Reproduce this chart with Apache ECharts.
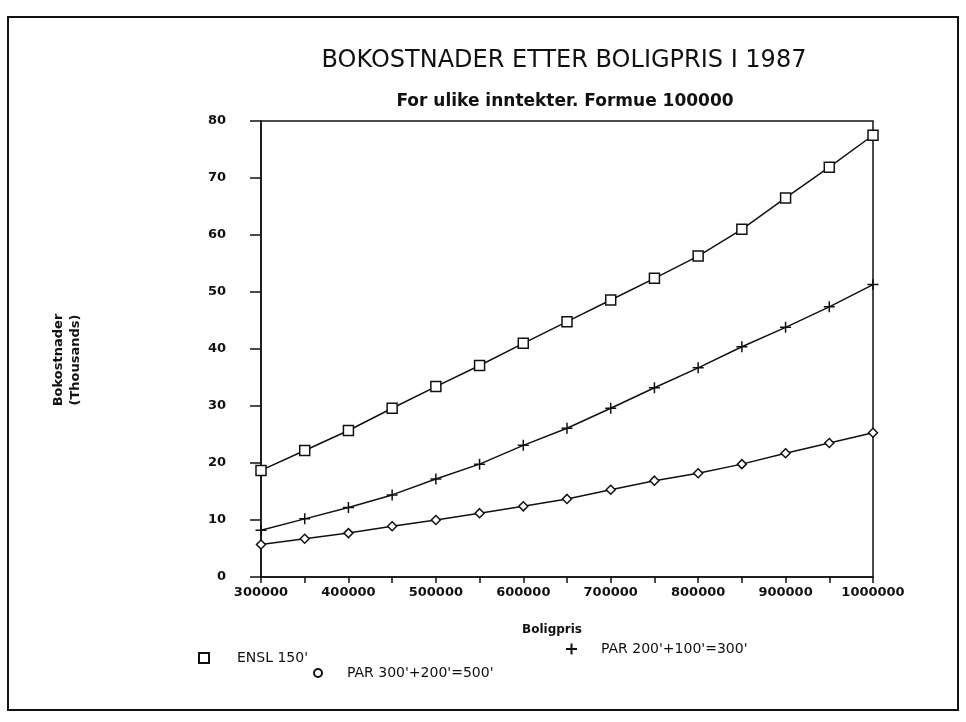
<!DOCTYPE html>
<html>
<head>
<meta charset="utf-8">
<script src="https://cdn.jsdelivr.net/npm/echarts@6/dist/echarts.min.js"></script>
<style>
html,body{margin:0;padding:0;background:#fff;}
#chart{width:966px;height:722px;}
</style>
</head>
<body>
<div id="chart"></div>
<script>
// Boligpris (x) categories
const boligpris = [300000, 350000, 400000, 450000, 500000, 550000, 600000, 650000, 700000, 750000, 800000, 850000, 900000, 950000, 1000000];
// Bokostnader (thousands)
const ensl150 = [18.7, 22.2, 25.7, 29.6, 33.4, 37.1, 41.0, 44.8, 48.6, 52.4, 56.3, 61.0, 66.5, 71.9, 77.5];
const par300 = [8.2, 10.2, 12.2, 14.4, 17.2, 19.8, 23.1, 26.1, 29.6, 33.2, 36.7, 40.4, 43.8, 47.4, 51.3];
const par500 = [5.7, 6.7, 7.7, 8.9, 10.0, 11.2, 12.4, 13.7, 15.3, 16.9, 18.2, 19.8, 21.7, 23.5, 25.3];
const seriesNames = ["ENSL 150'", "PAR 200'+100'=300'", "PAR 300'+200'=500'"];
const titleText = 'BOKOSTNADER ETTER BOLIGPRIS I 1987';
const subtitleText = 'For ulike inntekter. Formue 100000';
const xName = 'Boligpris';
const yName = 'Bokostnader\n(Thousands)';

const FONT = '"DejaVu Sans", sans-serif';
const plusPath = 'path://M0,5L10,5M5,0L5,10';

function pts(vals) { return boligpris.map((x, i) => [x, vals[i]]); }

const chart = echarts.init(document.getElementById('chart'), null, {renderer: 'canvas'});
function legendText(padLeft) {
  return {fontFamily: FONT, fontSize: 14, color: '#111', padding: [0, 0, 0, padLeft]};
}

chart.setOption({
  backgroundColor: '#fff',
  animation: false,
  title: [
    {text: titleText, left: 559, top: 44, textAlign: 'center',
     textStyle: {fontFamily: FONT, fontSize: 24, fontWeight: 'normal', color: '#111'}},
    {text: subtitleText, left: 560, top: 88, textAlign: 'center',
     textStyle: {fontFamily: FONT, fontSize: 17, fontWeight: 'bold', color: '#111'}}
  ],
  grid: {left: 261, right: 93, top: 121, bottom: 145, show: true, borderColor: '#111', borderWidth: 1.5, backgroundColor: 'transparent'},
  xAxis: {
    type: 'value', min: 300000, max: 1000000, interval: 50000,
    axisLine: {lineStyle: {color: '#111', width: 1.5}},
    axisTick: {show: true, length: 6, inside: false, lineStyle: {color: '#111', width: 1.5}},
    splitLine: {show: false},
    axisLabel: {
      margin: 9, fontFamily: FONT, fontSize: 13, fontWeight: 'bold', color: '#111',
      formatter: v => (v % 100000 === 0 ? String(v) : '')
    }
  },
  yAxis: {
    type: 'value', min: 0, max: 80, interval: 10,
    axisLine: {show: true, lineStyle: {color: '#111', width: 1.5}},
    axisTick: {show: true, length: 11, lineStyle: {color: '#111', width: 1.5}},
    splitLine: {show: false},
    axisLabel: {margin: 35, fontFamily: FONT, fontSize: 13, fontWeight: 'bold', color: '#111'}
  },
  legend: [
    {left: 193, top: 646, itemWidth: 10, itemHeight: 10, textStyle: legendText(23),
     data: [{name: seriesNames[0], icon: 'rect'}]},
    {left: 560, top: 637, itemWidth: 11, itemHeight: 11, textStyle: legendText(19),
     data: [{name: seriesNames[1], icon: plusPath}]},
    {left: 308, top: 661, itemWidth: 8, itemHeight: 8, textStyle: legendText(20),
     data: [{name: seriesNames[2], icon: 'circle'}]}
  ],
  graphic: [
    {type: 'rect', shape: {x: 8, y: 17, width: 950, height: 693}, silent: true,
     style: {fill: 'none', stroke: '#111', lineWidth: 2}},
    {type: 'text', x: 552, y: 630, silent: true,
     style: {text: xName, font: 'bold 12px ' + FONT, fill: '#111', align: 'center', verticalAlign: 'middle'}},
    {type: 'text', x: 67, y: 360, rotation: Math.PI / 2, silent: true,
     style: {text: yName, font: 'bold 13px ' + FONT, fill: '#111', align: 'center', verticalAlign: 'middle', lineHeight: 17}}
  ],
  series: [
    {name: seriesNames[0], type: 'line', data: pts(ensl150), symbol: 'rect', symbolSize: 10,
     lineStyle: {color: '#111', width: 1.5},
     itemStyle: {color: '#fff', borderColor: '#111', borderWidth: 1.5}},
    {name: seriesNames[1], type: 'line', data: pts(par300), symbol: plusPath, symbolSize: 11,
     lineStyle: {color: '#111', width: 1.5},
     itemStyle: {color: '#fff', borderColor: '#111', borderWidth: 1.5}},
    {name: seriesNames[2], type: 'line', data: pts(par500), symbol: 'diamond', symbolSize: 9,
     lineStyle: {color: '#111', width: 1.5},
     itemStyle: {color: '#fff', borderColor: '#111', borderWidth: 1.5}}
  ]
});
</script>
</body>
</html>
